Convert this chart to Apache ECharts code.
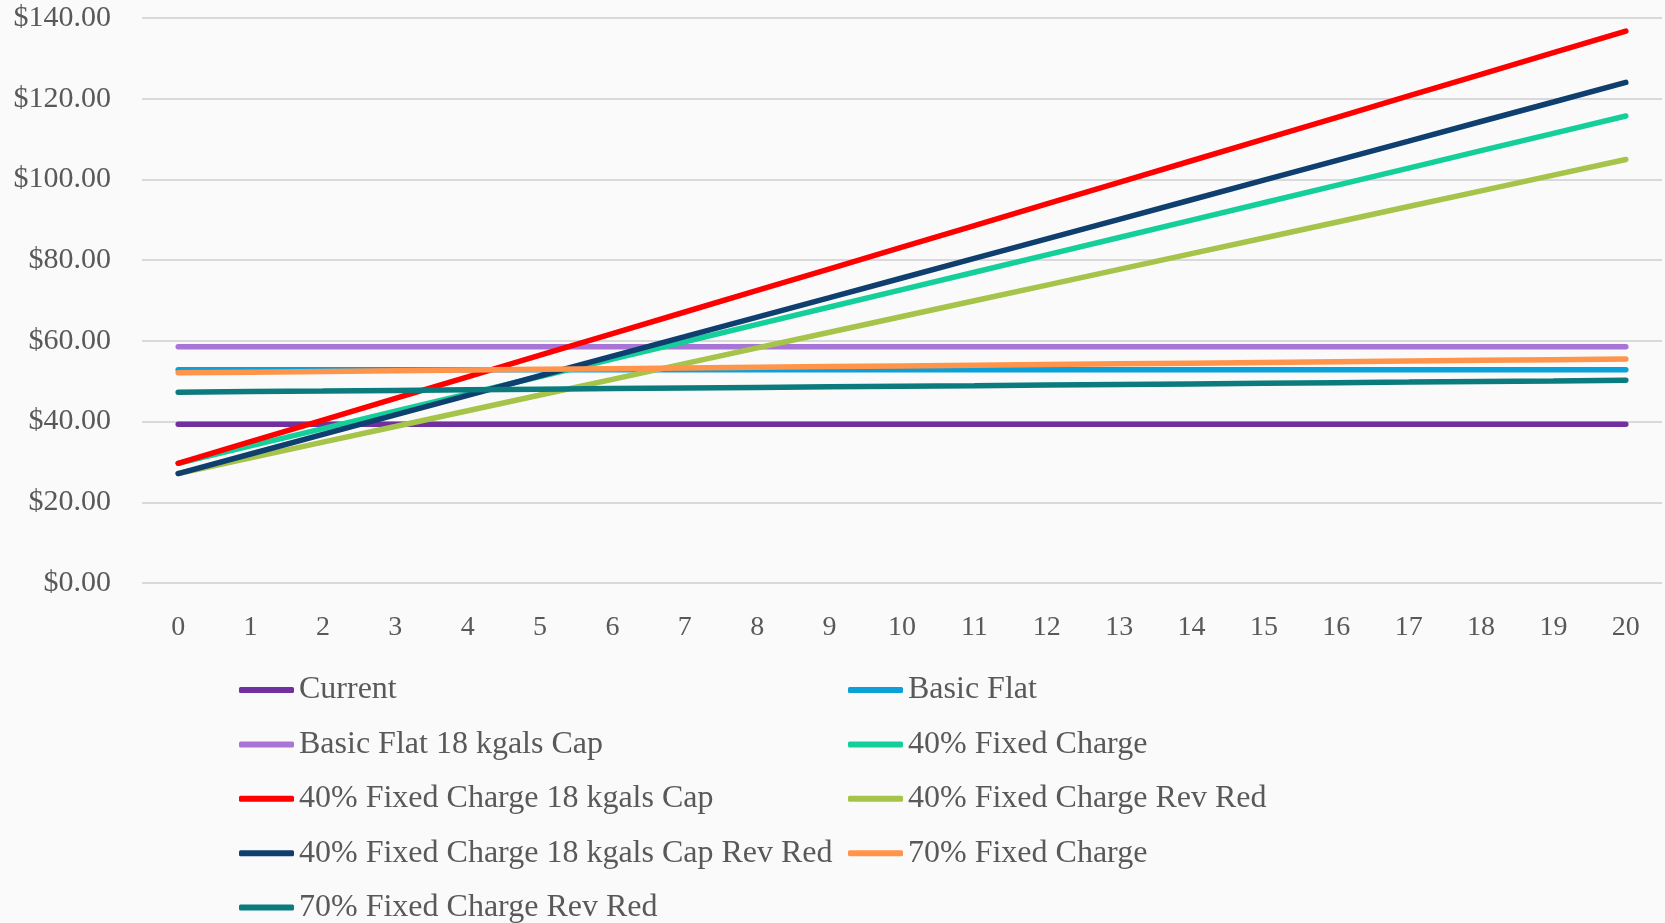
<!DOCTYPE html>
<html>
<head>
<meta charset="utf-8">
<script src="https://cdn.jsdelivr.net/npm/echarts@6/dist/echarts.min.js"></script>
<style>
  html, body { margin: 0; padding: 0; background: #fafafa; }
  #chart { width: 1665px; height: 923px; }
</style>
</head>
<body>
<div id="chart"></div>
<script>
// 横轴：用水量 (kgals)
const categories = ['0', '1', '2', '3', '4', '5', '6', '7', '8', '9', '10',
  '11', '12', '13', '14', '15', '16', '17', '18', '19', '20']

const yTicks = [0, 20, 40, 60, 80, 100, 120, 140]

const current = [39.36, 39.36, 39.36, 39.36, 39.36, 39.36, 39.36, 39.36, 39.36, 39.36, 39.36,
  39.36, 39.36, 39.36, 39.36, 39.36, 39.36, 39.36, 39.36, 39.36, 39.36]
const basicFlat = [52.87, 52.87, 52.87, 52.87, 52.87, 52.87, 52.87, 52.87, 52.87, 52.87, 52.87,
  52.87, 52.87, 52.87, 52.87, 52.87, 52.87, 52.87, 52.87, 52.87, 52.87]
const basicFlatCap = [58.55, 58.55, 58.55, 58.55, 58.55, 58.55, 58.55, 58.55, 58.55, 58.55, 58.55,
  58.55, 58.55, 58.55, 58.55, 58.55, 58.55, 58.55, 58.55, 58.55, 58.55]
const fixed40 = [29.66, 33.96, 38.27, 42.57, 46.87, 51.18, 55.48, 59.78, 64.08, 68.39, 72.69,
  76.99, 81.30, 85.60, 89.90, 94.21, 98.51, 102.81, 107.12, 111.42, 115.72]
const fixed40Cap = [29.66, 35.02, 40.37, 45.73, 51.08, 56.44, 61.79, 67.15, 72.50, 77.86, 83.21,
  88.57, 93.92, 99.28, 104.63, 109.99, 115.34, 120.70, 126.05, 131.41, 136.77]
const fixed40RevRed = [27.12, 31.01, 34.90, 38.79, 42.69, 46.58, 50.47, 54.36, 58.25, 62.14, 66.04,
  69.93, 73.82, 77.71, 81.60, 85.50, 89.39, 93.28, 97.17, 101.06, 104.95]
const fixed40CapRevRed = [27.12, 31.97, 36.81, 41.66, 46.50, 51.35, 56.20, 61.04, 65.89, 70.73, 75.58,
  80.43, 85.27, 90.12, 94.96, 99.81, 104.66, 109.50, 114.35, 119.19, 124.04]
const fixed70 = [52.08, 52.25, 52.42, 52.59, 52.77, 52.94, 53.11, 53.28, 53.45, 53.62, 53.80,
  53.97, 54.14, 54.31, 54.48, 54.65, 54.82, 55.00, 55.17, 55.34, 55.51]
const fixed70RevRed = [47.29, 47.44, 47.58, 47.73, 47.88, 48.02, 48.17, 48.32, 48.46, 48.61, 48.76,
  48.90, 49.05, 49.20, 49.34, 49.49, 49.64, 49.78, 49.93, 50.07, 50.22]

const seriesNames = ['Current', 'Basic Flat', 'Basic Flat 18 kgals Cap', '40% Fixed Charge',
  '40% Fixed Charge 18 kgals Cap', '40% Fixed Charge Rev Red',
  '40% Fixed Charge 18 kgals Cap Rev Red', '70% Fixed Charge', '70% Fixed Charge Rev Red']
const seriesData = [current, basicFlat, basicFlatCap, fixed40, fixed40Cap,
  fixed40RevRed, fixed40CapRevRed, fixed70, fixed70RevRed]
const seriesColors = ['#7030a0', '#0aa0d8', '#a874d6', '#14cf9a', '#ff0000',
  '#a6c34a', '#0f3f6f', '#ff944a', '#0b7b7e']

const FONT = '"Liberation Serif", "DejaVu Serif", serif'
const TEXT_COLOR = '#595959'

// 图例分两列，逐行排列
const ROW_TOP = 674
const ROW_STEP = 54.4

const legendBase = {
  orient: 'vertical',
  padding: 0,
  icon: 'roundRect',
  itemWidth: 55,
  itemHeight: 6,
  itemGap: ROW_STEP - 32,
  textStyle: {
    fontFamily: FONT,
    fontSize: 32,
    color: TEXT_COLOR
  },
  selectedMode: false
}

const chart = echarts.init(document.getElementById('chart'))

const option = {
  backgroundColor: '#fafafa',
  animation: false,
  legend: [
    Object.assign({}, legendBase, {
      left: 239,
      top: ROW_TOP,
      data: [seriesNames[0], seriesNames[2], seriesNames[4], seriesNames[6]]
    }),
    Object.assign({}, legendBase, {
      left: 239,
      top: ROW_TOP + ROW_STEP * 4,
      data: [seriesNames[8]]
    }),
    Object.assign({}, legendBase, {
      left: 848,
      top: ROW_TOP,
      data: [seriesNames[1], seriesNames[3], seriesNames[5], seriesNames[7]]
    })
  ],
  grid: {
    left: 142,
    right: 3,
    top: 18,
    bottom: 340,
    containLabel: false
  },
  xAxis: {
    type: 'category',
    data: categories,
    boundaryGap: true,
    axisLine: { show: false },
    axisTick: { show: false },
    axisLabel: {
      margin: 31,
      fontFamily: FONT,
      fontSize: 28,
      color: TEXT_COLOR
    }
  },
  yAxis: {
    type: 'value',
    min: yTicks[0],
    max: yTicks[yTicks.length - 1],
    interval: 20,
    axisLine: { show: false },
    axisTick: { show: false },
    axisLabel: {
      margin: 31,
      fontFamily: FONT,
      fontSize: 30,
      color: TEXT_COLOR,
      formatter: (v) => '$' + v.toFixed(2)
    },
    splitLine: {
      lineStyle: { color: '#d9d9d9', width: 2 }
    }
  },
  series: seriesNames.map((name, i) => ({
    name: name,
    type: 'line',
    data: seriesData[i],
    symbol: 'none',
    color: seriesColors[i],
    lineStyle: { width: 5.5, color: seriesColors[i], cap: 'round' }
  }))
}

chart.setOption(option)
</script>
</body>
</html>
